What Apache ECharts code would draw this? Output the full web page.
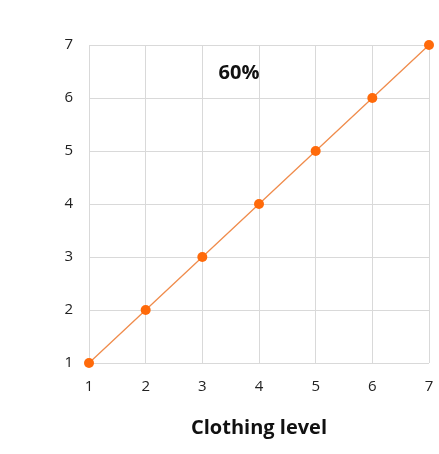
<!DOCTYPE html>
<html>
<head>
<meta charset="utf-8">
<style>
  html, body { margin: 0; padding: 0; background: #fff; }
  #chart { width: 439px; height: 454px; }
</style>
<script src="https://cdn.jsdelivr.net/npm/echarts@6/dist/echarts.min.js"></script>
</head>
<body>
<div id="chart"></div>
<script>
// Clothing level values plotted against themselves
const xValues = [1, 2, 3, 4, 5, 6, 7];
const yValues = [1, 2, 3, 4, 5, 6, 7];
const titleText = '60%';
const xAxisName = 'Clothing level';

const chart = echarts.init(document.getElementById('chart'), null, { renderer: 'canvas' });
const font = '"Open Sans", "Noto Sans", sans-serif';

chart.setOption({
  animation: false,
  backgroundColor: '#ffffff',
  title: {
    text: titleText,
    left: 234,
    top: 58,
    textAlign: 'center',
    textStyle: { fontFamily: font, fontSize: 20, fontWeight: 'bold', color: '#111' }
  },
  grid: { left: 89, right: 10, top: 45, bottom: 91, containLabel: false },
  xAxis: {
    type: 'value',
    min: 1, max: 7, interval: 1,
    name: xAxisName,
    nameLocation: 'middle',
    nameGap: 55,
    nameTextStyle: { fontFamily: font, fontSize: 20, fontWeight: 'bold', color: '#111' },
    axisLine: { show: false },
    axisTick: { show: false },
    axisLabel: { fontFamily: font, fontSize: 15, color: '#222', margin: 16 },
    splitLine: { show: true, lineStyle: { color: '#d9d9d9', width: 1 } }
  },
  yAxis: {
    type: 'value',
    min: 1, max: 7, interval: 1,
    axisLine: { show: false },
    axisTick: { show: false },
    axisLabel: { fontFamily: font, fontSize: 15, color: '#222', margin: 16 },
    splitLine: { show: true, lineStyle: { color: '#d9d9d9', width: 1 } }
  },
  series: [{
    type: 'line',
    data: xValues.map((x, i) => [x, yValues[i]]),
    symbol: 'circle',
    symbolSize: 10,
    itemStyle: { color: '#ff6a0a' },
    lineStyle: { color: '#f08c4c', width: 1.3 },
    clip: false
  }]
});
</script>
</body>
</html>
